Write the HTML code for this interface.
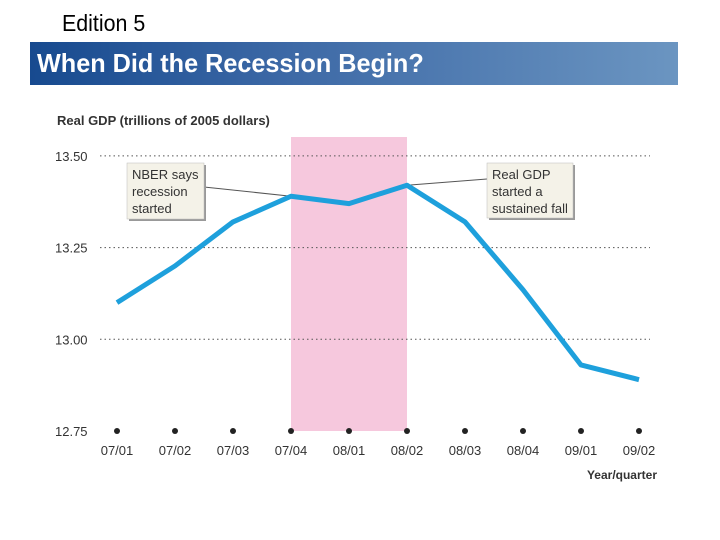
<!DOCTYPE html>
<html><head><meta charset="utf-8"><style>
body{margin:0;width:720px;height:540px;background:#fff;overflow:hidden;position:relative;font-family:"Liberation Sans",sans-serif}
#ed{position:absolute;left:62px;top:10px;font-size:23px;color:#000;transform:scaleX(0.93);transform-origin:left}
#bar{position:absolute;left:30px;top:42px;width:648px;height:43px;background:linear-gradient(90deg,#174a8f 0%,#3d69a6 40%,#6b95c1 100%)}
#bar span{position:absolute;left:7px;top:6px;font-size:26px;font-weight:bold;color:#fff;transform:scaleX(0.97);transform-origin:left;white-space:nowrap}
svg{position:absolute;left:0;top:0}
</style></head><body>
<div id="ed">Edition 5</div>
<div id="bar"><span>When Did the Recession Begin?</span></div>
<svg id="chart" width="720" height="540"></svg>
<script>
const categories=["07/01","07/02","07/03","07/04","08/01","08/02","08/03","08/04","09/01","09/02"];
const gdpValues=[13.10,13.20,13.32,13.39,13.37,13.42,13.32,13.135,12.93,12.89];
const yTicks=[13.50,13.25,13.00,12.75];
const yTickLabels=["13.50","13.25","13.00","12.75"];
const recessionStart="07/04", recessionEnd="08/02";
const NS="http://www.w3.org/2000/svg";
const svg=document.getElementById('chart');
const x=i=>117+i*58.0;
const y=v=>431-(v-12.75)/0.25*91.7;
function el(t,a,p){const e=document.createElementNS(NS,t);for(const k in a)e.setAttribute(k,a[k]);(p||svg).appendChild(e);return e;}
const f='"Liberation Sans",sans-serif';
let band=el('rect',{x:x(categories.indexOf(recessionStart)),y:137,width:x(categories.indexOf(recessionEnd))-x(categories.indexOf(recessionStart)),height:431-137,fill:'#f6c8dd'});


let t=el('text',{x:57,y:125,'font-size':13,'font-weight':'bold',fill:'#333','font-family':f});t.textContent="Real GDP (trillions of 2005 dollars)";


yTicks.forEach((v,i)=>{
 if(v>12.75){let g=el('line',{x1:100,x2:650,y1:y(v),y2:y(v),stroke:'#555','stroke-width':1,'stroke-dasharray':'1.5,3'});
 
 }
 let l=el('text',{x:55,y:y(v)+5,'font-size':13,fill:'#333','font-family':f});l.textContent=yTickLabels[i];
 
 
});
categories.forEach((c,i)=>{
 let d=el('circle',{cx:x(i),cy:431,r:3,fill:'#222'});
 
 
 let l=el('text',{x:x(i),y:455,'font-size':13,fill:'#333','text-anchor':'middle','font-family':f});l.textContent=c;
 
 
});
let xt=el('text',{x:657,y:479,'font-size':12,'font-weight':'bold',fill:'#333','text-anchor':'end','font-family':f});xt.textContent="Year/quarter";


let i1=categories.indexOf(recessionStart),i2=categories.indexOf(recessionEnd);
let l1=el('line',{x1:204,y1:187,x2:x(i1),y2:y(gdpValues[i1]),stroke:'#555','stroke-width':1});


let l2=el('line',{x1:x(i2),y1:y(gdpValues[i2]),x2:487,y2:179,stroke:'#555','stroke-width':1});


let line=el('polyline',{points:gdpValues.map((v,i)=>x(i)+','+y(v)).join(' '),fill:'none',stroke:'#1ea0dc','stroke-width':5,'stroke-linejoin':'round'});


function box(bx,by,w,h,lines,name){
 const g=el('g',{});
 
 
 el('rect',{x:bx+2,y:by+2,width:w,height:h,fill:'#999'},g);
 el('rect',{x:bx,y:by,width:w,height:h,fill:'#f4f2e8',stroke:'#bbb','stroke-width':0.5},g);
 lines.forEach((s,k)=>{let tt=el('text',{x:bx+5,y:by+16+k*17,'font-size':13,fill:'#333','font-family':f},g);tt.textContent=s;});
}
box(127,163,77,56,["NBER says","recession","started"],'nber-annotation');
box(487,163,86,55,["Real GDP","started a","sustained fall"],'gdp-fall-annotation');
</script>
</body></html>
